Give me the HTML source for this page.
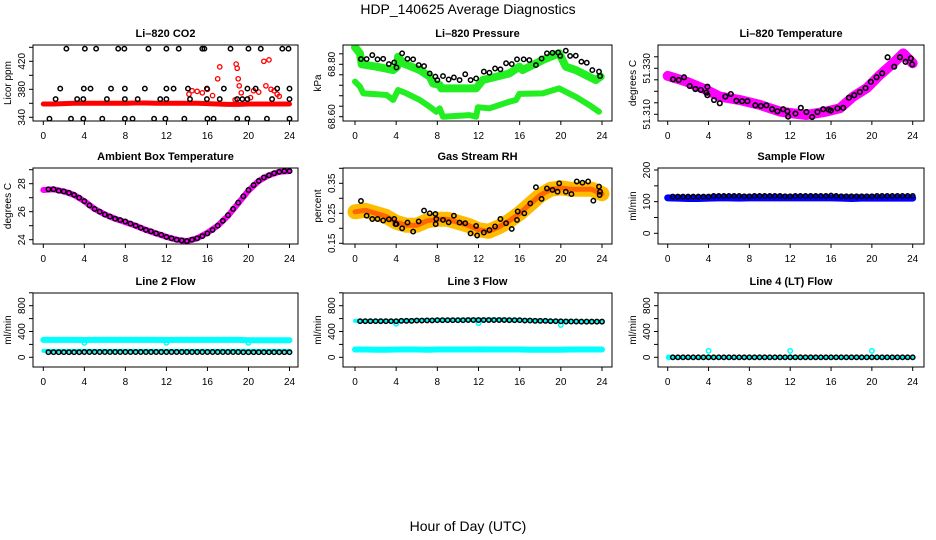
<!DOCTYPE html>
<html><head><meta charset="utf-8">
<style>
html,body{margin:0;padding:0;background:#fff;}
svg{display:block;font-family:"Liberation Sans",Arial,sans-serif;}
</style></head>
<body>
<svg id="chart" width="936" height="540" viewBox="0 0 936 540" xmlns="http://www.w3.org/2000/svg">
<rect width="936" height="540" fill="#fff"/>
<text x="468" y="14" text-anchor="middle" font-size="14">HDP_140625  Average Diagnostics</text>
<text x="468" y="531" text-anchor="middle" font-size="14">Hour of Day (UTC)</text>
</svg>
<script>
// ---------- DATA ----------
const xTicks=[0,4,8,12,16,20,24];
const halfHours=[0.5,1,1.5,2,2.5,3,3.5,4,4.5,5,5.5,6,6.5,7,7.5,8,8.5,9,9.5,10,10.5,11,11.5,12,12.5,13,13.5,14,14.5,15,15.5,16,16.5,17,17.5,18,18.5,19,19.5,20,20.5,21,21.5,22,22.5,23,23.5,24];
const bandHours=[0,1,2,3,4,5,6,7,8,9,10,11,12,13,14,15,16,17,18,19,20,21,22,23,24];

// CO2
const co2Hours=[2.25,4.05,5.15,7.3,7.9,10.25,12.0,13.2,15.5,15.7,18.25,20.0,21.2,23.3,23.9,
 1.65,3.95,4.6,6.6,7.95,9.9,12.0,12.7,14.1,15.95,17.6,19.9,20.7,22.8,24.0,
 1.2,3.3,3.9,6.2,7.95,9.2,11.4,12.0,14.3,15.95,17.2,18.9,19.4,19.9,22.3,24.0,
 0.6,2.7,3.9,5.75,7.95,8.7,10.8,11.9,13.75,16.0,16.6,18.9,19.9,21.8,24.0];
const co2Vals=[438,438,438,438,438,438,438,438,438,438,438,438,438,438,438,
 381,381,381,381,381,381,381,381,381,381,381,381,381,381,381,
 366,366,366,366,366,366,366,366,366,366,366,366,366,366,366,366,
 338,338,338,338,338,338,338,338,338,338,338,338,338,338,338];
const co2Band=[359,359,359.5,360,360,360,360,360,360,360.5,360.5,360,360,360,360,360,359.5,359,358.5,358.5,359,359,359,359,359];
const co2RedHours=[14.5,15,15.5,16,17,17.2,18.8,18.9,19,19.1,19.3,20.2,21.5,22,21.7,22.2,22.5,20.5,18.7,23,14.2,16.5,21,22.8];
const co2RedVals=[378,377,375,380,395,412,416,410,395,385,375,368,420,422,385,380,378,378,365,370,373,371,376,373];

// Pressure
const presHours=[0.58,1.13,1.68,2.19,2.74,3.29,3.81,4.03,4.58,5.10,5.65,6.19,6.71,7.26,7.81,8.0,8.55,9.10,9.61,10.16,10.71,11.23,11.77,12.52,13.06,13.61,14.13,14.68,15.23,15.74,16.39,16.94,17.58,18.13,18.65,19.19,19.74,19.94,20.48,20.90,21.45,22.0,22.52,23.06,23.71,23.81];
const presVals=[68.820,68.820,68.835,68.819,68.821,68.801,68.807,68.788,68.842,68.821,68.819,68.797,68.793,68.765,68.753,68.740,68.755,68.742,68.750,68.740,68.762,68.740,68.746,68.772,68.768,68.784,68.781,68.804,68.801,68.819,68.819,68.816,68.797,68.822,68.842,68.844,68.845,68.832,68.852,68.832,68.833,68.810,68.806,68.778,68.772,68.755];
const presUpHours=[0,0.48,0.65,2.1,3.71,4.1,4.19,4.68,6.29,7.26,7.58,8.23,8.39,11.77,12.42,15.0,15.97,16.29,18.23,19.84,20.48,21.45,23.39,23.87];
const presUpVals=[68.865,68.842,68.800,68.791,68.778,68.791,68.829,68.804,68.778,68.753,68.727,68.721,68.708,68.708,68.740,68.765,68.791,68.778,68.816,68.842,68.791,68.778,68.740,68.753];
const presLoHours=[0,0.48,0.81,3.06,3.71,4.19,5.0,6.29,7.26,7.9,8.23,8.55,11.13,11.77,11.94,13.06,15.0,15.65,15.97,18.23,19.84,20.48,21.45,22.74,23.71];
const presLoVals=[68.734,68.715,68.689,68.683,68.664,68.702,68.689,68.664,68.638,68.619,68.632,68.600,68.606,68.600,68.636,68.632,68.657,68.664,68.687,68.689,68.708,68.695,68.676,68.645,68.619];

// Li-820 Temperature
const tempHours=[0.52,1.08,1.60,2.16,2.71,3.24,3.79,3.89,3.89,4.54,5.10,5.65,6.18,6.73,7.29,7.81,8.59,9.12,9.67,10.23,10.75,11.31,11.73,11.80,12.52,13.04,13.59,14.15,14.67,15.23,15.78,15.98,16.63,17.19,17.75,18.27,18.82,19.38,19.90,20.46,21.01,21.54,22.19,22.75,23.30,23.82,23.95];
const tempVals=[51.3252,51.3249,51.3261,51.3223,51.3210,51.3206,51.3194,51.3220,51.3183,51.3162,51.3148,51.3177,51.3188,51.3159,51.3157,51.3157,51.3139,51.3136,51.3139,51.3122,51.3113,51.3122,51.3113,51.3090,51.3103,51.3128,51.3110,51.3088,51.3110,51.3122,51.3120,51.3116,51.3126,51.3128,51.3172,51.3183,51.3197,51.3214,51.3241,51.3261,51.3278,51.3348,51.3307,51.3348,51.3328,51.3343,51.3317];
const tempBandHours=[0,1.83,3.79,5.10,7.06,9.02,10.98,12.29,13.59,15.56,16.86,18.17,19.48,20.78,22.09,23.07,24.0];
const tempBandVals=[51.3267,51.3242,51.3206,51.3177,51.3162,51.3141,51.3112,51.3104,51.3097,51.3112,51.3126,51.3177,51.3213,51.3271,51.3322,51.3365,51.3322];

// Ambient box temperature
const ambBand=[27.55,27.6,27.45,27.2,26.75,26.2,25.8,25.5,25.25,25.0,24.7,24.45,24.2,24.0,23.9,24.1,24.5,25.0,25.7,26.6,27.5,28.2,28.6,28.85,28.9];
const ambVals=[27.6,27.6,27.5,27.45,27.35,27.2,27.0,26.75,26.45,26.2,26.0,25.8,25.65,25.5,25.4,25.3,25.15,25.0,24.85,24.7,24.6,24.45,24.35,24.2,24.1,24.0,23.95,23.9,24.0,24.1,24.25,24.45,24.7,25.0,25.35,25.75,26.2,26.65,27.1,27.55,27.9,28.2,28.45,28.6,28.75,28.85,28.9,28.9];

// Gas stream RH
const rhBand=[0.255,0.26,0.25,0.24,0.22,0.21,0.21,0.225,0.23,0.23,0.22,0.21,0.195,0.19,0.205,0.225,0.25,0.28,0.31,0.33,0.335,0.33,0.33,0.33,0.315];
const rhHours=[0.58,1.13,1.68,2.19,2.74,3.29,3.81,3.94,4.03,4.58,5.10,5.65,6.19,6.71,7.26,7.81,7.84,7.9,8.55,9.1,9.61,10.16,10.71,11.23,11.77,11.87,12.52,13.06,13.61,14.13,14.68,15.23,15.74,15.81,16.45,17.03,17.58,18.13,18.65,19.19,19.68,19.84,20.48,21.03,21.55,22.1,22.65,23.16,23.71,23.77,23.81];
const rhVals=[0.291,0.242,0.231,0.231,0.226,0.230,0.231,0.214,0.214,0.200,0.219,0.189,0.223,0.259,0.250,0.248,0.214,0.231,0.228,0.220,0.242,0.219,0.217,0.183,0.208,0.176,0.186,0.194,0.206,0.231,0.217,0.198,0.228,0.256,0.250,0.283,0.337,0.298,0.333,0.328,0.322,0.350,0.322,0.314,0.356,0.352,0.356,0.292,0.339,0.311,0.322];

// Sample flow
const sfBand=[112,111,110,110,111,112,112,111,112,112,112,112,112,112,112,112,112,111,110,111,111,111,111,111,111];
const sfVals=[116,116,116,116,116,116,116,116,118,118,118,118,118,118,117,117,118,118,118,118,118,118,117,117,118,118,118,118,118,118,118,119,118,117,117,117,117,117,117,117,118,118,118,118,118,118,118,118];

// Line 2 flow
const l2Upper=[270,270,270,270,268,270,270,270,270,270,270,270,268,270,270,270,270,270,270,270,265,265,265,265,265];
const l2Lower=[100,100,100,100,100,100,100,100,100,100,100,100,100,100,100,100,100,100,100,100,100,100,100,100,100];
const l2Vals=[80,80,80,80,80,80,80,82,82,82,82,82,82,82,82,82,82,82,82,82,82,82,82,82,82,82,82,82,82,82,82,82,82,82,82,82,82,82,80,80,80,80,80,80,80,80,80,80];
const l2OutHours=[4,12,20];
const l2OutVals=[225,225,225];

// Line 3 flow
const l3Upper=[565,565,565,565,560,570,575,578,580,580,582,585,585,585,585,582,580,575,570,565,560,560,555,555,555];
const l3Lower=[120,120,118,118,120,120,120,118,120,120,120,120,122,120,120,120,120,118,118,118,118,120,120,120,120];
const l3Vals=[560,560,560,560,560,560,560,560,565,565,565,570,570,572,572,575,575,575,575,575,575,578,578,578,578,578,578,578,578,575,575,575,570,570,565,565,565,560,560,558,555,555,555,553,553,553,553,553];
const l3OutHours=[4,12,20];
const l3OutVals=[520,530,500];

// Line 4 flow
const l4Band=[0,0,0,0,0,0,0,0,0,0,0,0,0,0,0,0,0,0,0,0,0,0,0,0,0];
const l4Vals=[0,0,0,0,0,0,0,0,0,0,0,0,0,0,0,0,0,0,0,0,0,0,0,0,0,0,0,0,0,0,0,0,0,0,0,0,0,0,0,0,0,0,0,0,0,0,0,0];
const l4OutHours=[0.1,4,12,20];
const l4OutVals=[0,100,100,100];

// ---------- DRAWING ----------
const NS="http://www.w3.org/2000/svg";
const svg=document.getElementById('chart');
function el(tag,parent){const e=document.createElementNS(NS,tag);parent.appendChild(e);return e;}

function panel(c){
  const g=el('g',svg);
  
  
  const xs=h=>c.x0+(h/24)*(c.x24-c.x0);
  const ys=v=>c.yp0+(v-c.yv0)*(c.yp1-c.yp0)/(c.yv1-c.yv0);
  const t=el('text',g);
  
  
  t.setAttribute('x',(c.left+c.right)/2);t.setAttribute('y',c.top-8);
  t.setAttribute('text-anchor','middle');t.setAttribute('font-size','11');t.setAttribute('font-weight','bold');
  t.textContent=c.title;
  const marks=el('g',g);
  
  
  const box=el('rect',g);
  
  
  box.setAttribute('x',c.left);box.setAttribute('y',c.top);
  box.setAttribute('width',c.right-c.left);box.setAttribute('height',c.bottom-c.top);
  box.setAttribute('fill','none');box.setAttribute('stroke','#000');box.setAttribute('stroke-width','1');
  const xa=el('g',g);
  
  
  xTicks.forEach(h=>{
    const l=el('line',xa);
    l.setAttribute('x1',xs(h));l.setAttribute('x2',xs(h));l.setAttribute('y1',c.bottom);l.setAttribute('y2',c.bottom+4);l.setAttribute('stroke','#000');
    const tx=el('text',xa);
    
    
    tx.setAttribute('x',xs(h));tx.setAttribute('y',c.bottom+18);tx.setAttribute('text-anchor','middle');tx.setAttribute('font-size','10');
    tx.textContent=h;
  });
  const ya=el('g',g);
  
  
  c.yticks.forEach(v=>{
    const l=el('line',ya);
    l.setAttribute('x1',c.left-4);l.setAttribute('x2',c.left);l.setAttribute('y1',ys(v));l.setAttribute('y2',ys(v));l.setAttribute('stroke','#000');
  });
  c.ylabels.forEach(v=>{
    const tx=el('text',ya);
    
    
    const xx=c.left-8,yy=ys(v);
    tx.setAttribute('transform','translate('+xx+','+yy+') rotate(-90)');
    tx.setAttribute('text-anchor','middle');tx.setAttribute('font-size','10');
    tx.textContent=v.toFixed(c.dec);
  });
  const yt=el('text',g);
  
  
  yt.setAttribute('transform','translate('+(c.left-22)+','+((c.top+c.bottom)/2)+') rotate(-90)');
  yt.setAttribute('text-anchor','middle');yt.setAttribute('font-size','10');
  yt.textContent=c.ytitle;
  const cp=el('clipPath',g);const cid='cp'+Math.round(c.left)+'_'+Math.round(c.top);cp.setAttribute('id',cid);
  const cr=el('rect',cp);cr.setAttribute('x',c.left);cr.setAttribute('y',c.top);cr.setAttribute('width',c.right-c.left);cr.setAttribute('height',c.bottom-c.top);
  marks.setAttribute('clip-path','url(#'+cid+')');
  return {xs,ys,marks};
}
function band(p,hours,vals,color,width,name){
  const pl=el('polyline',p.marks);
  
  
  pl.setAttribute('points',hours.map((h,i)=>p.xs(h)+','+p.ys(vals[i])).join(' '));
  pl.setAttribute('fill','none');pl.setAttribute('stroke',color);pl.setAttribute('stroke-width',width);
  pl.setAttribute('stroke-linejoin','round');pl.setAttribute('stroke-linecap','round');
}
function pts(p,hours,vals,color,name,r,sw){
  hours.forEach((h,i)=>{
    const ci=el('circle',p.marks);
    
    
    ci.setAttribute('cx',p.xs(h));ci.setAttribute('cy',p.ys(vals[i]));ci.setAttribute('r',r||2.3);
    ci.setAttribute('fill','none');ci.setAttribute('stroke',color);ci.setAttribute('stroke-width',sw||1.5);
  });
}
const C1={left:33,right:298,x0:43.3,x24:289.5};
const C2={left:343,right:612,x0:355,x24:602};
const C3={left:658,right:924,x0:667.7,x24:912.7};
const R1={top:45,bottom:121},R2={top:168,bottom:244},R3={top:293,bottom:367};
function range(a,b,s){const o=[];for(let v=a;v<=b+s/1000;v+=s)o.push(+v.toFixed(4));return o;}

let p=panel(Object.assign({name:'panel-co2',title:'Li–820 CO2',ytitle:'Licor ppm',yv0:340,yp0:117.3,yv1:420,yp1:61.3,yticks:range(340,440,20),ylabels:[340,380,420],dec:0},C1,R1));
band(p,bandHours,co2Band,'#ff0000',5,'co2-band');
pts(p,co2RedHours,co2RedVals,'#ff0000','co2-red-point',2.2,1.3);
pts(p,co2Hours,co2Vals,'#000','co2-point',2.2,1.5);

p=panel(Object.assign({name:'panel-pressure',title:'Li–820 Pressure',ytitle:'kPa',yv0:68.60,yp0:116.7,yv1:68.80,yp1:64.3,yticks:range(68.60,68.84,0.04),ylabels:[68.60,68.80],dec:2},C2,R1));
band(p,presUpHours,presUpVals,'#22ee22',8,'pressure-upper-band');
band(p,presLoHours,presLoVals,'#22ee22',6,'pressure-lower-band');
pts(p,presHours,presVals,'#000','pressure-point',2.2,1.5);

p=panel(Object.assign({name:'panel-li820-temp',title:'Li–820 Temperature',ytitle:'degrees C',yv0:51.310,yp0:114.3,yv1:51.330,yp1:68.3,yticks:range(51.310,51.335,0.005),ylabels:[51.310,51.330],dec:3},C3,R1));
band(p,tempBandHours,tempBandVals,'#ff00ff',10,'li820-temp-band');
pts(p,tempHours,tempVals,'#000','li820-temp-point',2.3,1.6);

p=panel(Object.assign({name:'panel-ambient',title:'Ambient Box Temperature',ytitle:'degrees C',yv0:24,yp0:239.7,yv1:28,yp1:183.7,yticks:range(24,29,1),ylabels:[24,26,28],dec:0},C1,R2));
band(p,bandHours,ambBand,'#ff00ff',6,'ambient-band');
pts(p,halfHours,ambVals,'#000','ambient-point',2.2,1.5);

p=panel(Object.assign({name:'panel-rh',title:'Gas Stream RH',ytitle:'percent',yv0:0.15,yp0:243.3,yv1:0.35,yp1:183.3,yticks:range(0.15,0.40,0.05),ylabels:[0.15,0.25,0.35],dec:2},C2,R2));
band(p,bandHours,rhBand,'#ffbb00',15,'rh-band');
band(p,bandHours,rhBand,'#ff6600',5,'rh-band-core');
pts(p,rhHours,rhVals,'#000','rh-point',2.2,1.5);

p=panel(Object.assign({name:'panel-sample-flow',title:'Sample Flow',ytitle:'ml/min',yv0:0,yp0:233.3,yv1:200,yp1:170,yticks:range(0,200,50),ylabels:[0,100,200],dec:0},C3,R2));
band(p,bandHours,sfBand,'#0000ff',7,'sample-flow-band');
pts(p,halfHours,sfVals,'#000','sample-flow-point',2.2,1.5);

p=panel(Object.assign({name:'panel-line2-flow',title:'Line 2 Flow',ytitle:'ml/min',yv0:0,yp0:357.3,yv1:800,yp1:305.7,yticks:range(0,1000,200),ylabels:[0,400,800],dec:0},C1,R3));
band(p,bandHours,l2Upper,'#00ffff',6,'line2-upper-band');
band(p,bandHours,l2Lower,'#00ffff',4,'line2-lower-band');
pts(p,l2OutHours,l2OutVals,'#00ffff','line2-outlier',2.2,1.5);
pts(p,halfHours,l2Vals,'#000','line2-point',2.2,1.5);

p=panel(Object.assign({name:'panel-line3-flow',title:'Line 3 Flow',ytitle:'ml/min',yv0:0,yp0:357.3,yv1:800,yp1:305.7,yticks:range(0,1000,200),ylabels:[0,400,800],dec:0},C2,R3));
band(p,bandHours,l3Upper,'#00ffff',4,'line3-upper-band');
band(p,bandHours,l3Lower,'#00ffff',6,'line3-lower-band');
pts(p,l3OutHours,l3OutVals,'#00ffff','line3-outlier',2.2,1.5);
pts(p,halfHours,l3Vals,'#000','line3-point',2.2,1.5);

p=panel(Object.assign({name:'panel-line4-flow',title:'Line 4 (LT) Flow',ytitle:'ml/min',yv0:0,yp0:357.3,yv1:800,yp1:305.7,yticks:range(0,1000,200),ylabels:[0,400,800],dec:0},C3,R3));
band(p,bandHours,l4Band,'#00ffff',3,'line4-band');
pts(p,l4OutHours,l4OutVals,'#00ffff','line4-outlier',2.2,1.5);
pts(p,halfHours,l4Vals,'#000','line4-point',2.2,1.5);
</script>
</body></html>
